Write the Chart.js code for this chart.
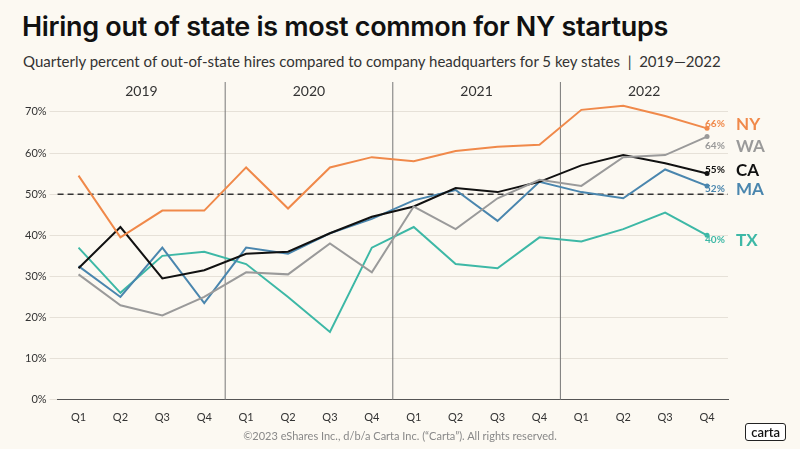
<!DOCTYPE html>
<html><head><meta charset="utf-8">
<script src="https://cdn.jsdelivr.net/npm/chart.js@4"></script>
<style>
body{margin:0;background:#fcf9f2;font-family:Lato,"Open Sans",sans-serif;}
#wrap{position:relative;width:800px;height:449px;}
h1{position:absolute;left:22px;top:10px;margin:0;font:600 27px Inter,Lato,sans-serif;color:#111;letter-spacing:-0.3px}
#sub{position:absolute;left:23px;top:52px;font:15px Lato,sans-serif;color:#333}
#foot{position:absolute;left:0;width:800px;top:429px;text-align:center;font:11px Lato,sans-serif;color:#888}
#logo{position:absolute;right:14px;top:423px;border:1.5px solid #222;border-radius:3px;padding:0 5px;font:600 13px Lato,sans-serif;color:#111;background:#fff}
canvas{position:absolute;left:0;top:0}
</style></head><body>
<div id="wrap">
<h1>Hiring out of state is most common for NY startups</h1>
<div id="sub">Quarterly percent of out-of-state hires compared to company headquarters for 5 key states &nbsp;|&nbsp; 2019—2022</div>
<canvas id="c" width="800" height="449"></canvas>
<div id="foot">©2023 eShares Inc., d/b/a Carta Inc. (“Carta”). All rights reserved.</div>
<div id="logo">carta</div>
</div>
<script>
const quarters=["Q1","Q2","Q3","Q4","Q1","Q2","Q3","Q4","Q1","Q2","Q3","Q4","Q1","Q2","Q3","Q4"];
const years=["2019","2020","2021","2022"];
const yTicks=[0,10,20,30,40,50,60,70];
const NY=[54.5,39.5,46,46,56.5,46.5,56.5,59,58,60.5,61.5,62,70.5,71.5,69,66];
const WA=[30.5,23,20.5,25,31,30.5,38,31,47,41.5,49,53.5,52,59,59.5,64];
const CA=[32,42,29.5,31.5,35.5,36,40.5,44.5,47,51.5,50.5,53,57,59.5,57.5,55];
const MA=[32.5,25,37,23.5,37,35.5,40.5,44,48.5,51,43.5,53,50.5,49,56,52];
const TX=[37,26,35,36,33,25,16.5,37,42,33,32,39.5,38.5,41.5,45.5,40];
const series=[["NY",NY,"#f0894a"],["WA",WA,"#9a9a9a"],["CA",CA,"#111111"],["MA",MA,"#4a86ae"],["TX",TX,"#3db8a6"]];
const extra={id:"extra",
 beforeDatasetsDraw(ch){const {ctx,chartArea:a,scales:{x,y}}=ch;ctx.save();
  ctx.strokeStyle="#777";ctx.lineWidth=1;
  for(let i=1;i<4;i++){const px=(x.getPixelForValue(i*4-1)+x.getPixelForValue(i*4))/2;ctx.beginPath();ctx.moveTo(px,a.top+3);ctx.lineTo(px,a.bottom);ctx.stroke();}
  ctx.fillStyle="#333";ctx.font="14px Lato";ctx.textAlign="center";
  years.forEach((t,i)=>{const px=(x.getPixelForValue(i*4)+x.getPixelForValue(i*4+3))/2;ctx.fillText(t,px,a.top+17);});
  ctx.setLineDash([6,4]);ctx.strokeStyle="#333";ctx.lineWidth=1.5;const py=y.getPixelForValue(50);
  ctx.beginPath();ctx.moveTo(a.left,py);ctx.lineTo(a.right,py);ctx.stroke();ctx.restore();},
 afterDatasetsDraw(ch){const {ctx,scales:{x,y}}=ch;ctx.save();
  const offs={NY:-5,WA:9,CA:-4,MA:3,TX:4};
  series.forEach(([n,d,c])=>{const v=d[d.length-1];const px=x.getPixelForValue(15);let py=y.getPixelForValue(v)+offs[n];
   ctx.fillStyle=c;ctx.font="bold 10px Lato";ctx.textAlign="left";ctx.textBaseline="middle";ctx.fillText(Math.round(v)+"%",px-2,py);
   ctx.font="bold 17px Lato";ctx.fillText(n,px+29,py+1);});
  ctx.restore();}};
new Chart(document.getElementById("c"),{type:"line",
 data:{labels:quarters,datasets:series.map(([n,d,c])=>({label:n,data:d,borderColor:c,borderWidth:2,pointRadius:(ctx)=>ctx.dataIndex==15?2.5:0,pointBackgroundColor:c,pointBorderWidth:0,tension:0}))},
 options:{responsive:false,animation:false,
  layout:{padding:{left:22,right:72,top:79,bottom:22}},
  plugins:{legend:{display:false},tooltip:{enabled:false}},
  scales:{x:{offset:true,grid:{display:false},border:{color:"#555"},ticks:{color:"#333",font:{size:11,family:"Lato"}}},
   y:{min:0,max:78,afterBuildTicks(s){s.ticks=yTicks.map(v=>({value:v}));},
    grid:{color:"#e6e1d8"},border:{display:false},ticks:{color:"#333",font:{size:11,family:"Lato"},callback:v=>v+"%"}}}},
 plugins:[extra]});
</script></body></html>
